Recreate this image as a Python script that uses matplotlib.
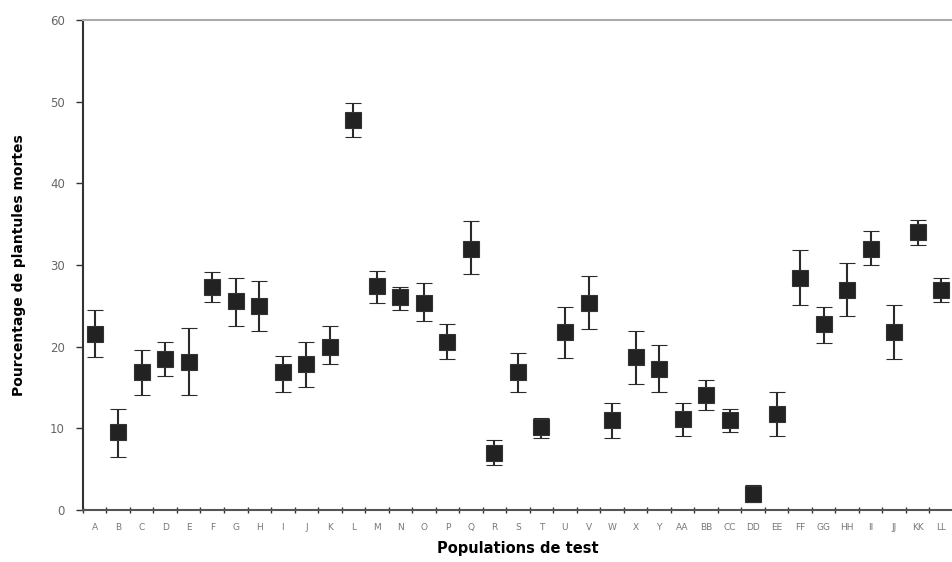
import matplotlib
matplotlib.use("Agg")
import matplotlib.pyplot as plt

# populations (no "Z" in the original)
populations = ['A', 'B', 'C', 'D', 'E', 'F', 'G', 'H', 'I', 'J', 'K', 'L', 'M',
               'N', 'O', 'P', 'Q', 'R', 'S', 'T', 'U', 'V', 'W', 'X', 'Y',
               'AA', 'BB', 'CC', 'DD', 'EE', 'FF', 'GG', 'HH', 'II', 'JJ', 'KK', 'LL']

mortes = [21.5, 9.5, 16.9, 18.5, 18.1, 27.3, 25.6, 25.0, 16.9, 17.9, 20.0, 47.7, 27.4,
          26.1, 25.4, 20.6, 32.0, 7.0, 16.9, 10.2, 21.8, 25.4, 11.0, 18.7, 17.3,
          11.1, 14.1, 11.0, 2.0, 11.8, 28.4, 22.8, 26.9, 32.0, 21.8, 34.0, 26.9]

# top and bottom of each error bar
haut = [24.5, 12.4, 19.6, 20.6, 22.3, 29.1, 28.4, 28.1, 18.9, 20.6, 22.5, 49.8, 29.3,
        27.3, 27.8, 22.8, 35.4, 8.6, 19.2, 11.3, 24.9, 28.7, 13.1, 21.9, 20.2,
        13.1, 15.9, 12.4, 3.1, 14.4, 31.8, 24.9, 30.3, 34.2, 25.1, 35.5, 28.4]
bas = [18.7, 6.5, 14.1, 16.4, 14.1, 25.5, 22.5, 21.9, 14.5, 15.1, 17.9, 45.7, 25.4,
       24.5, 23.1, 18.5, 28.9, 5.5, 14.4, 8.8, 18.6, 22.2, 8.8, 15.4, 14.4,
       9.1, 12.3, 9.5, 1.0, 9.1, 25.1, 20.5, 23.8, 30.0, 18.5, 32.4, 25.5]

x = list(range(len(populations)))
err_bas = [m - b for m, b in zip(mortes, bas)]
err_haut = [h - m for h, m in zip(haut, mortes)]

fig = plt.figure(figsize=(9.53, 5.62), dpi=100)
ax = fig.add_axes([0.087, 0.0925, 0.913, 0.872])

ax.errorbar(x, mortes, yerr=[err_bas, err_haut], fmt='s', color='#222222',
            ecolor='#2a2a2a', elinewidth=1.5, capsize=6, capthick=1.5,
            markersize=11.5, markeredgecolor='#333333', markeredgewidth=0.8,
            clip_on=True)

ax.set_ylim(0, 60)
ax.set_yticks(range(0, 61, 10))
ax.set_xlim(-0.5, 36.05)

# labels centred on each population, ticks between them
ax.set_xticks([i - 0.5 for i in range(len(populations) + 1)])
ax.set_xticklabels([])
ax.set_xticks(x, minor=True)
ax.set_xticklabels(populations, minor=True)
ax.tick_params(axis='x', which='major', direction='inout', length=4, width=1, color='#333333')
ax.tick_params(axis='x', which='minor', length=0, pad=9, labelsize=6.5, labelcolor='#777777')
ax.tick_params(axis='y', direction='out', length=5, width=1, color='#333333',
               labelsize=8.5, labelcolor='#666666', pad=8)

ax.spines['right'].set_visible(False)
ax.spines['top'].set_color('#aaaaaa')
ax.spines['top'].set_linewidth(1.5)
ax.spines['left'].set_color('#333333')
ax.spines['left'].set_linewidth(1.5)
ax.spines['bottom'].set_color('#555555')
ax.spines['bottom'].set_linewidth(1.5)

ax.set_xlabel('Populations de test', fontsize=10.5, fontweight='bold', labelpad=7)
ax.set_ylabel('Pourcentage de plantules mortes', fontsize=10, fontweight='bold', labelpad=17)

plt.savefig("out.png", dpi=100)
